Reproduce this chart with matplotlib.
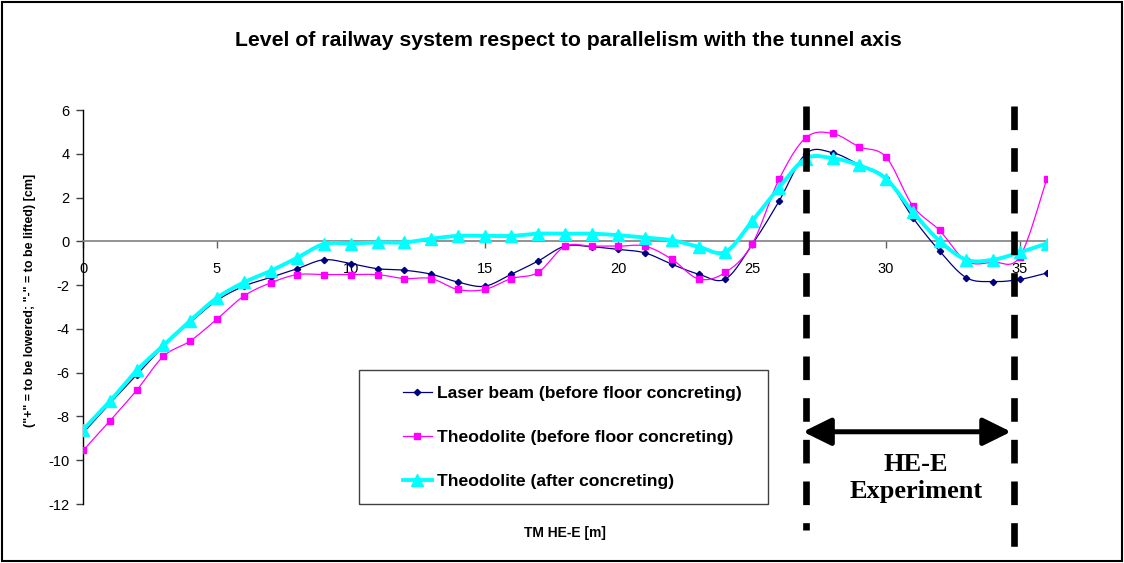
import numpy as np
import matplotlib
matplotlib.use("Agg")
import matplotlib.pyplot as plt
from matplotlib.patches import Rectangle

plt.rcParams['font.family'] = ['Liberation Sans', 'DejaVu Sans']
plt.rcParams['lines.scale_dashes'] = False
plt.rcParams['axes.unicode_minus'] = False

# ---------------- data ----------------
tm = list(range(0, 37))
laser_before = [-8.75, -7.4, -6.1, -4.8, -3.7, -2.7, -2.05, -1.65, -1.25, -0.84,
                -1.02, -1.25, -1.32, -1.5, -1.86, -2.05, -1.5, -0.9, -0.22, -0.25,
                -0.37, -0.53, -1.05, -1.5, -1.72, -0.14, 1.83, 4.0, 4.05, 3.5,
                2.9, 1.08, -0.44, -1.66, -1.84, -1.74, -1.45]
theo_before = [-9.55, -8.2, -6.8, -5.25, -4.55, -3.55, -2.5, -1.9, -1.52, -1.52,
               -1.52, -1.52, -1.7, -1.7, -2.2, -2.2, -1.7, -1.42, -0.23, -0.22,
               -0.22, -0.22, -0.82, -1.72, -1.42, -0.12, 2.83, 4.73, 4.93, 4.32,
               3.85, 1.62, 0.5, -0.9, -0.95, -0.7, 2.83]
theo_after = [-8.6, -7.3, -5.9, -4.75, -3.62, -2.58, -1.88, -1.35, -0.75, -0.12,
              -0.1, -0.05, -0.05, 0.12, 0.25, 0.25, 0.25, 0.35, 0.35, 0.35,
              0.28, 0.17, 0.05, -0.25, -0.48, 0.93, 2.45, 3.78, 3.8, 3.47,
              2.86, 1.34, 0.02, -0.84, -0.84, -0.5, -0.1]
labels = ['Laser beam (before floor concreting)',
          'Theodolite (before floor concreting)',
          'Theodolite (after concreting)']
xticks = [0, 5, 10, 15, 20, 25, 30, 35]
yticks = [-12, -10, -8, -6, -4, -2, 0, 2, 4, 6]
exp_start, exp_end = 27, 34.78
title = 'Level of railway system respect to parallelism with the tunnel axis'


def smooth(x, y, n=12):
    """Excel-like smoothed line (cubic Bezier through the points)."""
    x = np.asarray(x, float)
    y = np.asarray(y, float)
    P = np.column_stack([x, y])
    out = [P[0]]
    t = np.linspace(0, 1, n + 1)[1:]
    for i in range(len(P) - 1):
        p0 = P[i - 1] if i > 0 else P[i]
        p1, p2 = P[i], P[i + 1]
        p3 = P[i + 2] if i + 2 < len(P) else P[i + 1]
        c1 = p1 + (p2 - p0) / 6.0
        c2 = p2 - (p3 - p1) / 6.0
        for tt in t:
            b = ((1 - tt) ** 3) * p1 + 3 * ((1 - tt) ** 2) * tt * c1 \
                + 3 * (1 - tt) * tt ** 2 * c2 + tt ** 3 * p2
            out.append(b)
    out = np.array(out)
    return out[:, 0], out[:, 1]


W, H = 1124, 563
fig = plt.figure(figsize=(W / 100, H / 100), dpi=100)
ax = fig.add_axes([83.2 / W, 1 - 504 / H, 963.4 / W, 394 / H])

series = [
    (laser_before, '#000080', 'D', 3.2, 0.9, 3),
    (theo_before, '#FF00FF', 's', 3.8, 0.9, 4),
    (theo_after, '#00FFFF', '^', 8.5, 2.8, 5),
]
handles = []
for (vals, col, mk, ms, lw, z), lab in zip(series, labels):
    sx, sy = smooth(tm, vals)
    ax.plot(sx, sy, color=col, lw=lw, zorder=z)
    ax.plot(tm, vals, linestyle='none', marker=mk, ms=ms, color=col,
            markeredgecolor=col, zorder=z)
    h, = ax.plot([], [], color=col, lw=lw, marker=mk, ms=ms, markeredgecolor=col)
    handles.append(h)

ax.set_xlim(0, 36)
ax.set_ylim(-12, 6)
ax.set_xticks(xticks)
ax.set_yticks(yticks)
ax.set_axisbelow(True)
for s in ['top', 'right']:
    ax.spines[s].set_visible(False)
ax.spines['bottom'].set_position(('data', 0))
ax.spines['bottom'].set_color('#808080')
ax.spines['bottom'].set_linewidth(1.2)
ax.spines['left'].set_color('black')
ax.spines['left'].set_linewidth(1.0)
ax.tick_params(axis='x', direction='out', length=5, width=1, color='#606060',
               labelsize=10.5, pad=10)
ax.tick_params(axis='y', direction='out', length=5, width=1, color='#404040',
               labelsize=10.5, pad=5)

# experiment markers (dashed verticals, double arrow, text)
for xv, ybot in [(exp_start, -13.2), (exp_end, -14.1)]:
    ax.plot([xv, xv], [6.16, ybot], color='black', lw=4.8, dashes=(17, 13),
            solid_capstyle='butt', dash_capstyle='butt', clip_on=False, zorder=6)

ax.annotate('', xy=(26.9, -8.7), xytext=(34.67, -8.7),
            arrowprops=dict(arrowstyle='<|-|>,head_length=0.85,head_width=0.42',
                            lw=3.6, color='black', mutation_scale=20,
                            shrinkA=0, shrinkB=0), zorder=6)
ax.text(31.12, -10.8, 'HE-E\nExperiment', ha='center', va='center',
        family=['Liberation Serif'], fontweight='bold', fontsize=19,
        linespacing=1.2, zorder=6)

# title and axis labels
fig.text(568 / W, 1 - 40 / H, title, ha='center', va='center',
         fontweight='bold', fontsize=15.3)
fig.text(564.5 / W, 1 - 533 / H, 'TM HE-E [m]', ha='center', va='center',
         fontweight='bold', fontsize=10)
fig.text(30 / W, 1 - 300 / H, '("+" = to be lowered; "-" = to be lifted) [cm]',
         ha='center', va='center', rotation=90, fontweight='bold', fontsize=9)

# legend
fig.patches.append(Rectangle((359 / W, 1 - 504 / H), (768 - 359) / W, (504 - 370) / H,
                             transform=fig.transFigure, fill=False,
                             edgecolor='#404040', lw=1.0, zorder=7))
leg = ax.legend(handles, labels, loc='center left',
                bbox_to_anchor=(403 / W, 1 - 437.5 / H),
                bbox_transform=fig.transFigure, frameon=False,
                prop={'weight': 'bold', 'size': 12.6}, handlelength=1.65,
                handletextpad=0.28, labelspacing=1.65, borderpad=0,
                borderaxespad=0, numpoints=1)
leg.set_zorder(8)

# outer border
fig.patches.append(Rectangle((2 / W, 2 / H), (W - 4) / W, (H - 4) / H,
                             transform=fig.transFigure, fill=False,
                             edgecolor='black', lw=1.5))

fig.savefig('out.png', dpi=100, facecolor='white')
